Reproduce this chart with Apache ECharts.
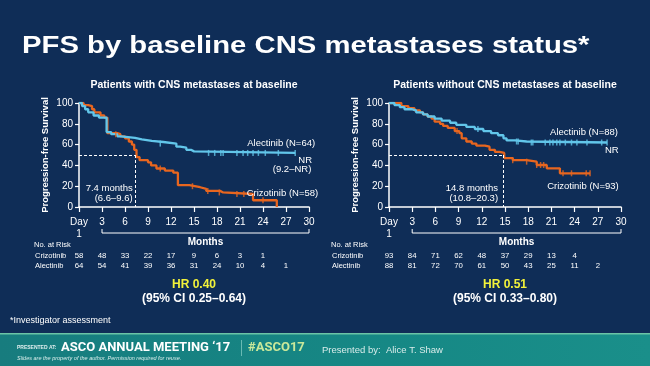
<!DOCTYPE html>
<html><head><meta charset="utf-8">
<script src="https://cdn.jsdelivr.net/npm/echarts@6/dist/echarts.min.js"></script>
<style>html,body{margin:0;padding:0;background:#0f2d57;}#c{width:650px;height:366px;}</style>
</head><body><div id="c"></div>
<script>
// ---------- data ----------
const monthTicks = [0,3,6,9,12,15,18,21,24,27,30];
const pctTicks = [0,20,40,60,80,100];

const leftAlectinib = [[0,100],[0.4,97],[0.8,94],[1.2,91],[1.9,88],[2.6,86],[3.6,72],[4.2,70],[5.0,68],[5.5,66.5],[7.3,65],[8.2,63.5],[9.5,62.5],[11.0,61],[12.7,58],[13.2,57],[14.0,55],[14.6,53.5],[15.0,52],[28.2,52]];
const leftCrizotinib = [[0,100],[0.6,98],[1.2,97],[1.7,94],[2.0,91],[2.8,88],[3.3,86],[3.7,71],[5.0,70],[5.4,68],[6.0,66],[6.5,63],[6.9,60],[7.2,55],[7.5,48],[7.9,45],[9.0,43],[9.4,40],[10.1,37],[11.2,35],[12.3,33],[12.9,21],[14.4,20],[15.1,19],[15.8,17.5],[16.6,15.5],[18.4,14],[18.8,12.5],[22.7,6.5],[25.8,0]];
const leftAlectinibCensor = [[10.6,61],[16.9,52],[17.7,52],[18.5,52],[18.8,52],[20.6,52],[21.4,52],[22.0,52],[22.7,52],[23.4,52],[24.3,52],[26.0,52],[28.2,52]];
const leftCrizotinibCensor = [[4.8,70],[10.6,37],[14.8,20],[16.8,15.5],[18.3,14],[20.6,12.5],[21.5,12.5],[24.0,6.5]];

const rightAlectinib = [[0,100],[0.3,100],[0.7,98],[1.4,96],[2.0,94],[2.9,93],[3.5,91],[4.4,89],[5.0,87],[5.9,85],[6.8,83],[7.9,81],[8.7,79],[10.0,77],[11.1,75],[12.2,73],[13.2,71],[14.1,69],[14.8,66],[15.2,64],[16.3,63],[17.8,62],[28.2,62]];
const rightCrizotinib = [[0,100],[1.6,97],[2.5,95],[3.3,93],[4.0,91],[4.4,89],[5.0,87],[5.5,85],[5.9,82],[6.6,80],[7.0,78],[7.6,76],[8.5,73],[9.1,71],[9.4,66],[10.0,63],[10.7,61],[11.3,59],[12.4,58],[13.0,55],[13.7,53],[14.3,52],[14.9,47],[16.0,45],[17.8,43.6],[19.1,40.4],[20.4,37.2],[22.1,32.4],[26.0,32.4]];
const rightAlectinibCensor = [[11.5,75],[16.5,63],[16.7,63],[18.4,62],[18.6,62],[20.2,62],[20.8,62],[21.2,62],[21.7,62],[22.1,62],[22.8,62],[23.6,62],[24.3,62],[25.6,62],[27.5,62],[28.2,62]];
const rightCrizotinibCensor = [[8.8,73],[16.0,45],[17.8,43.6],[19.1,40.4],[19.6,40.4],[20.0,40.4],[22.5,32.4],[23.6,32.4],[25.5,32.4],[26.0,32.4]];

const leftMedian = 7.4, rightMedian = 14.8;
const riskTimes = [0,3,6,9,12,15,18,21,24,27];
const leftRiskCriz = [58,48,33,22,17,9,6,3,1];
const leftRiskAlec = [64,54,41,39,36,31,24,10,4,1];
const rightRiskCriz = [93,84,71,62,48,37,29,13,4];
const rightRiskAlec = [88,81,72,70,61,50,43,25,11,2];

// ---------- chart ----------
const BLUE = '#62c6ea', ORANGE = '#e8661f', WHITE = '#ffffff';
const chart = echarts.init(document.getElementById('c'));

function xAx(gi){
  return {gridIndex:gi, type:'value', min:0, max:30, interval:3,
    axisLine:{lineStyle:{color:WHITE,width:1.5}},
    axisTick:{show:true, length:5, lineStyle:{color:WHITE,width:1.2}},
    splitLine:{show:false},
    axisLabel:{color:WHITE, fontSize:10, fontFamily:'Liberation Sans', margin:9, lineHeight:12,
      formatter:v=> v===0 ? 'Day\n1' : String(v)}};
}
function yAx(gi){
  return {gridIndex:gi, type:'value', min:0, max:100, interval:20,
    name:'Progression-free Survival', nameLocation:'middle', nameGap:29,
    nameTextStyle:{color:WHITE, fontSize:9.5, fontWeight:'bold', fontFamily:'Liberation Sans'},
    axisLine:{show:true, lineStyle:{color:WHITE,width:1.5}},
    axisTick:{show:true, length:4, lineStyle:{color:WHITE,width:1.2}},
    splitLine:{show:false},
    axisLabel:{color:WHITE, fontSize:10, fontFamily:'Liberation Sans', margin:6}};
}
function km(gi, data, color){
  return {type:'line', xAxisIndex:gi, yAxisIndex:gi, data:data, step:'end', symbol:'none',
    lineStyle:{color:color, width:2.3}, z:3, animation:false};
}
function cens(gi, data, color){
  return {type:'scatter', xAxisIndex:gi, yAxisIndex:gi, data:data, symbol:'rect', symbolSize:[1.5,6],
    itemStyle:{color:color}, z:4, animation:false};
}
function median(gi, m){
  return {type:'line', xAxisIndex:gi, yAxisIndex:gi, data:[], animation:false,
    markLine:{silent:true, symbol:'none', label:{show:false},
      lineStyle:{color:WHITE, type:[3,2], width:1},
      data:[[{coord:[0,50]},{coord:[m,50]}],[{coord:[m,50]},{coord:[m,0]}]]}};
}

chart.setOption({
  backgroundColor:'#0f2d57',
  animation:false,
  grid:[{left:79, width:230, top:103, height:104},{left:389, width:232, top:103, height:104}],
  xAxis:[xAx(0), xAx(1)],
  yAxis:[yAx(0), yAx(1)],
  series:[
    median(0,leftMedian), median(1,rightMedian),
    km(0,leftCrizotinib,ORANGE), km(0,leftAlectinib,BLUE),
    cens(0,leftCrizotinibCensor,ORANGE), cens(0,leftAlectinibCensor,BLUE),
    km(1,rightCrizotinib,ORANGE), km(1,rightAlectinib,BLUE),
    cens(1,rightCrizotinibCensor,ORANGE), cens(1,rightAlectinibCensor,BLUE)
  ]
});

function px(gi, pt){ return chart.convertToPixel({gridIndex:gi}, pt); }
const F = 'Liberation Sans';
const els = [];
function txt(x,y,s,o,extra){
  o=o||{};
  els.push(Object.assign({type:'text', x:x, y:y, z:10, silent:true, style:Object.assign({x:0, y:0, text:s, fill:WHITE, fontFamily:F, fontSize:9.5,
    textAlign:'left', textVerticalAlign:'middle'}, o)}, extra||{}));
}
// title
txt(22,47,'PFS by baseline CNS metastases status*',{fontSize:23.5, fontWeight:'bold'},{scaleX:1.245});

const panels = [
  {gi:0, sub:'Patients with CNS metastases at baseline', alec:'Alectinib (N=64)', criz:'Crizotinib (N=58)',
   nr:['NR','(9.2–NR)'], med:['7.4 months','(6.6–9.6)'], medX:7.0,
   alecPos:[30.8,61.5], nrPos:[[30.4,45],[30.3,36.5]], crizPos:[31.2,13.5],
   riskC:leftRiskCriz, riskA:leftRiskAlec, labelX:34, hr:'HR 0.40', ci:'(95% CI 0.25–0.64)'},
  {gi:1, sub:'Patients without CNS metastases at baseline', alec:'Alectinib (N=88)', criz:'Crizotinib (N=93)',
   nr:['NR'], med:['14.8 months','(10.8–20.3)'], medX:14.1,
   alecPos:[29.6,72], nrPos:[[29.7,54]], crizPos:[29.7,20],
   riskC:rightRiskCriz, riskA:rightRiskAlec, labelX:331, hr:'HR 0.51', ci:'(95% CI 0.33–0.80)'}
];
panels.forEach(p=>{
  const g=p.gi;
  const c0=px(g,[15,100]);
  txt(c0[0],85,p.sub,{fontSize:10.5, fontWeight:'bold', textAlign:'center'});
  let q=px(g,p.alecPos); txt(q[0],q[1],p.alec,{textAlign:'right'});
  p.nr.forEach((s,i)=>{ const r=px(g,p.nrPos[i]); txt(r[0],r[1],s,{textAlign:'right'}); });
  q=px(g,p.crizPos); txt(q[0],q[1],p.criz,{textAlign:'right'});
  q=px(g,[p.medX,18.3]); txt(q[0],q[1],p.med[0],{textAlign:'right'});
  q=px(g,[p.medX,8.7]); txt(q[0],q[1],p.med[1],{textAlign:'right'});
  // bracket
  const a=px(g,[3,0]), b=px(g,[30,0]);
  const by=a[1]+26;
  els.push({type:'polyline', silent:true, z:10, shape:{points:[[a[0],by-4],[a[0],by],[b[0],by],[b[0],by-4]]},
    style:{stroke:WHITE, lineWidth:1, fill:null}});
  const mm=px(g,[16.5,0]);
  txt(mm[0],by+9,'Months',{fontSize:10, fontWeight:'bold', textAlign:'center'});
  // risk table
  txt(p.labelX,245,'No. at Risk',{fontSize:7.5});
  txt(p.labelX+1,256,'Crizotinib',{fontSize:7.5});
  txt(p.labelX+1,266,'Alectinib',{fontSize:7.5});
  p.riskC.forEach((v,i)=>{ const r=px(g,[riskTimes[i],0]); txt(r[0],256,String(v),{fontSize:7.8,textAlign:'center'}); });
  p.riskA.forEach((v,i)=>{ const r=px(g,[riskTimes[i],0]); txt(r[0],266,String(v),{fontSize:7.8,textAlign:'center'}); });
  txt(c0[0],285,p.hr,{fontSize:12, fontWeight:'bold', fill:'#f2f23a', textAlign:'center'});
  txt(c0[0],299,p.ci,{fontSize:12, fontWeight:'bold', textAlign:'center'});
});
txt(10,321,'*Investigator assessment',{fontSize:9});
// footer
els.push({type:'rect', silent:true, z:1, shape:{x:0,y:333,width:650,height:33},
  style:{fill:new echarts.graphic.LinearGradient(0,0,1,0,[{offset:0,color:'#177c7e'},{offset:0.6,color:'#168885'},{offset:1,color:'#1a8f8a'}])}});
els.push({type:'rect', silent:true, z:2, shape:{x:0,y:333,width:650,height:1.5}, style:{fill:'#6bc4a6'}});
txt(17,348,'PRESENTED AT:',{fontSize:5, fontWeight:'bold', fill:'#dfeeee'});
txt(61,348,'ASCO ANNUAL MEETING ‘17',{fontSize:13, fontFamily:'Roboto', fontWeight:'bold'});
els.push({type:'rect', silent:true, z:10, shape:{x:241,y:340,width:0.8,height:16}, style:{fill:'#7fc8c0'}});
txt(248,348,'#ASCO17',{fontSize:13, fontFamily:'Roboto', fontWeight:'bold', fill:'#c9e89a'});
txt(322,350,'Presented by:  Alice T. Shaw',{fontSize:9.5, fill:'#d8ecea'});
txt(17,358,'Slides are the property of the author. Permission required for reuse.',{fontSize:5.5, fontStyle:'italic', fill:'#d8ecea'});

chart.setOption({graphic:{elements:els}});
</script></body></html>
